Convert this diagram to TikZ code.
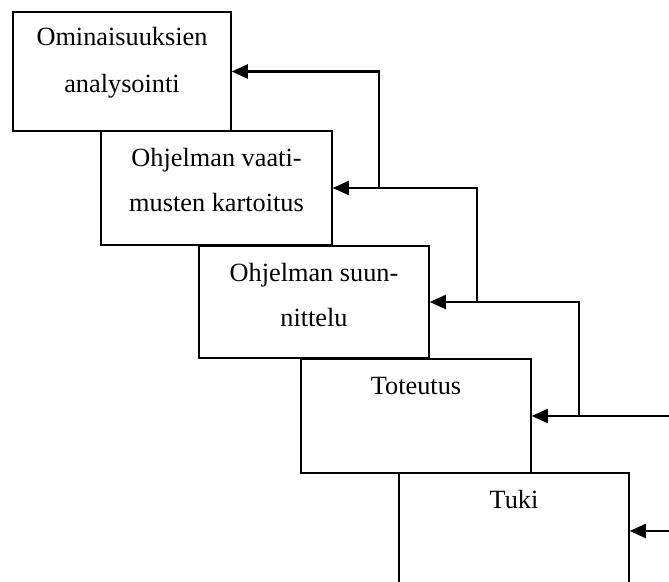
\documentclass[tikz,border=0pt]{standalone}
\usepackage{fontspec}
\setmainfont{Liberation Serif}
\usetikzlibrary{calc,arrows.meta}

\tikzset{
  stage/.style={draw=black, line width=0.75pt, fill=white, inner sep=0pt},
  caption/.style={anchor=base, inner sep=0pt, font=\fontsize{13.15pt}{16pt}\selectfont},
  feedback/.style={draw=black, line width=1.1pt, -{Triangle[length=8pt,width=7pt]}}
}

\begin{document}
\begin{tikzpicture}[x=0.5pt, y=-0.5pt]
  \useasboundingbox (0,0) rectangle (669,582);
  \clip (0,0) rectangle (669,582);

  % waterfall stages
  \node[stage, minimum width=109pt,   minimum height=59.5pt] (b1) at (122,71.5) {};
  \node[stage, minimum width=115.5pt, minimum height=57pt]   (b2) at (216.5,188) {};
  \node[stage, minimum width=115pt,   minimum height=56pt]   (b3) at (314,302) {};
  \node[stage, minimum width=115pt,   minimum height=57pt]   (b4) at (416,416) {};
  \node[stage, minimum width=115pt,   minimum height=58pt]   (b5) at (514,531) {};

  % stage captions
  \node[caption] (t1a) at ($(b1.north)+(0,34)$) {Ominaisuuksien};
  \node[caption] (t1b) at ($(b1.north)+(0,81)$) {analysointi};
  \node[caption] (t2a) at ($(b2.north)+(0,36)$) {Ohjelman vaati-};
  \node[caption] (t2b) at ($(b2.north)+(0,81)$) {musten kartoitus};
  \node[caption] (t3a) at ($(b3.north)+(0,36)$) {Ohjelman suun-};
  \node[caption] (t3b) at ($(b3.north)+(0,81)$) {nittelu};
  \node[caption] (t4a) at ($(b4.north)+(0,36)$) {Toteutus};
  \node[caption] (t5a) at ($(b5.north)+(0,36)$) {Tuki};

  % branch points of the feedback lines
  \coordinate (j1) at (379,188);
  \coordinate (j2) at (477,302);
  \coordinate (j3) at (579,416);
  \coordinate (e4) at (669,416);
  \coordinate (e5) at (669,531);

  % feedback arrows back to the earlier stages
  \draw[feedback] (j1) |- (b1.east);
  \draw[feedback] (j2) |- (b2.east);
  \draw[feedback] (j3) |- (b3.east);
  \draw[feedback] (e4) -- (b4.east |- e4);
  \draw[feedback] (e5) -- (b5.east |- e5);
\end{tikzpicture}
\end{document}
